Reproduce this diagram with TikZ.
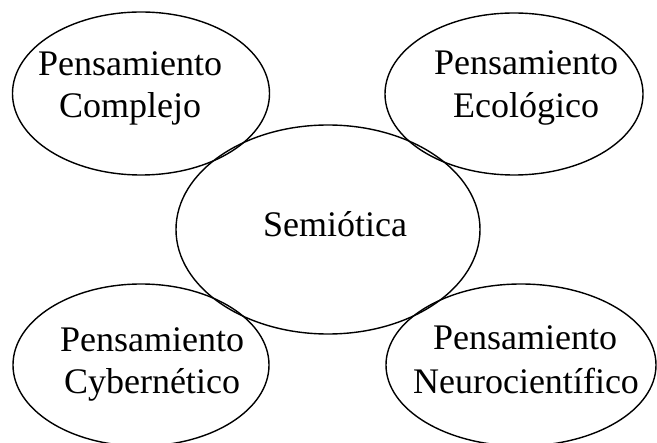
\documentclass[tikz,border=0pt]{standalone}
\usepackage{fontspec}
\setmainfont{Liberation Serif}
\usetikzlibrary{shapes.geometric}
\tikzset{
  oval/.style={draw, ellipse, line width=1.4bp, inner sep=0pt},
  lbl/.style={anchor=base, inner sep=0pt, font=\fontsize{36bp}{42bp}\selectfont}
}
\begin{document}
\begin{tikzpicture}[x=1bp,y=-1bp]
\useasboundingbox (0,0) rectangle (657,443);
\node[oval, minimum width=257bp, minimum height=163bp] (tl) at (141,93.5) {};
\node[oval, minimum width=258bp, minimum height=162bp] (tr) at (514,94) {};
\node[oval, minimum width=304bp, minimum height=209bp] (c) at (328,229.5) {};
\node[oval, minimum width=256bp, minimum height=162bp] (bl) at (141,365) {};
\node[oval, minimum width=270bp, minimum height=162bp] (br) at (521,365) {};

\node[lbl] (tla) at (130,76) {Pensamiento};
\node[lbl] (tlb) at (130,118) {Complejo};
\node[lbl] (tra) at (526,75) {Pensamiento};
\node[lbl] (trb) at (526,118) {Ecológico};
\node[lbl] (ca) at (335,237) {Semiótica};
\node[lbl] (bla) at (152,351) {Pensamiento};
\node[lbl] (blb) at (152,393) {Cybernético};
\node[lbl] (bra) at (525,349) {Pensamiento};
\node[lbl] (brb) at (526,393) {Neurocientífico};
\end{tikzpicture}
\end{document}
